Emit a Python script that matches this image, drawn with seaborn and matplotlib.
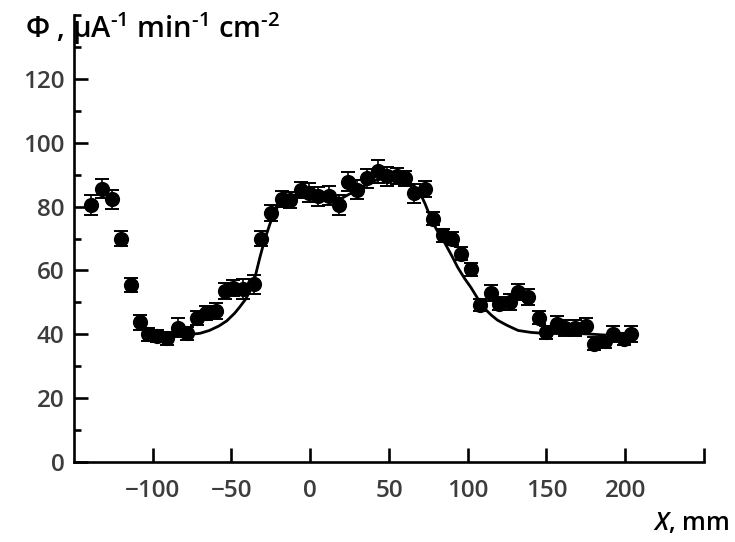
"""Perfil de fluxo ao longo de X com curva ajustada."""

import matplotlib

matplotlib.use("Agg")
import matplotlib.pyplot as plt
import numpy as np
import pandas as pd
import seaborn as sns
from matplotlib.ticker import FixedLocator

# pontos medidos
x_pontos = [-139, -132, -126, -120, -114, -108, -103, -97, -91, -84, -78, -72,
            -66, -60, -54, -49, -43, -36, -31, -25, -18, -13, -6, -1, 5, 12,
            18, 24, 30, 36, 43, 49, 55, 60, 66, 73, 78, 84, 90, 96, 102, 108,
            115, 120, 127, 132, 138, 145, 150, 157, 162, 168, 175, 180, 187,
            192, 199, 204]
y_pontos = [80.5, 85.6, 82.3, 70.0, 55.3, 43.7, 40.0, 39.5, 38.8, 42.0, 40.3,
            45.0, 46.8, 47.3, 53.5, 54.5, 54.2, 55.6, 70.0, 78.0, 82.3, 82.0,
            85.3, 84.4, 83.2, 83.4, 80.5, 87.8, 85.3, 88.8, 91.0, 89.5, 89.7,
            88.8, 84.2, 85.6, 76.2, 71.0, 70.0, 65.3, 60.3, 49.2, 52.8, 49.6,
            50.0, 53.2, 51.6, 45.2, 40.6, 43.2, 42.0, 42.0, 42.6, 37.0, 37.8,
            40.0, 38.5, 40.0]
erro = [3.0, 3.0, 3.0, 2.5, 2.2, 2.2, 2.0, 2.0, 2.0, 3.0, 2.0, 2.2, 2.2, 2.5,
        2.5, 2.5, 3.0, 3.0, 2.5, 2.5, 2.5, 2.5, 2.5, 3.0, 3.0, 3.0, 3.0, 3.0,
        3.0, 3.0, 3.5, 3.0, 2.5, 2.5, 3.0, 2.5, 2.0, 2.0, 2.0, 2.0, 2.0, 2.0,
        2.5, 2.0, 2.5, 2.5, 2.5, 2.0, 2.0, 2.5, 2.5, 2.5, 2.5, 2.0, 2.0, 2.5,
        2.0, 2.5]

# curva ajustada
x_curva = [-100, -90, -80, -70, -64, -58, -53, -48, -45, -41, -38, -35, -32,
           -29, -25.5, -22, -19, -15, -10, 0, 12, 20, 30, 40, 50, 60, 66, 70,
           73, 76.4, 80, 85, 90, 93.6, 98, 102, 106, 110, 115, 119, 125, 132,
           140, 148, 160, 172, 180, 189]
y_curva = [39.5, 39.5, 39.8, 40.3, 41.2, 42.6, 44.2, 46.6, 48.4, 51.0, 53.8,
           58.0, 64.0, 69.5, 74.7, 78.8, 81.6, 83.0, 83.4, 84.0, 83.0, 82.6,
           85.3, 88.0, 89.2, 88.2, 86.5, 84.0, 80.8, 76.6, 73.0, 69.0, 64.5,
           61.0, 57.5, 54.7, 51.5, 48.4, 46.0, 44.4, 42.8, 41.2, 40.6, 40.3,
           40.2, 40.2, 40.0, 39.7]

ticks_x = [-100, -50, 0, 50, 100, 150, 200, 250]
rotulos_x = ["\u2212100", "\u221250", "0", "50", "100", "150", "200", ""]
ticks_y = [0, 20, 40, 60, 80, 100, 120]
ticks_y_menor = [10, 30, 50, 70, 90, 110, 130, 140]

sns.set_theme(style="ticks")
plt.rcParams["font.family"] = ["Open Sans", "DejaVu Sans"]
plt.rcParams["mathtext.fontset"] = "custom"
plt.rcParams["mathtext.rm"] = "Open Sans:semibold"
plt.rcParams["mathtext.it"] = "Open Sans:italic:semibold"

df_pontos = pd.DataFrame({"x": x_pontos, "y": y_pontos, "erro": erro})
df_curva = pd.DataFrame({"x": x_curva, "y": y_curva})

fig = plt.figure(figsize=(7.35, 5.42), dpi=100)
ax = fig.add_axes([0.1007, 0.1476, 0.857, 0.8247])

sns.lineplot(data=df_curva, x="x", y="y", color="black", linewidth=2.0,
             ax=ax, zorder=2)
ax.errorbar(df_pontos["x"], df_pontos["y"], yerr=df_pontos["erro"], fmt="none",
            ecolor="black", elinewidth=1.2, capsize=5, capthick=1.4, zorder=3)
sns.scatterplot(data=df_pontos, x="x", y="y", color="black", s=120,
                edgecolor="black", linewidth=0, ax=ax, zorder=4)

ax.set_xlim(-150, 250)
ax.set_ylim(0, 140)
ax.set_xticks(ticks_x)
ax.set_xticklabels(rotulos_x)
ax.set_yticks(ticks_y)
ax.yaxis.set_minor_locator(FixedLocator(ticks_y_menor))

sns.despine(ax=ax)
for lado in ["left", "bottom"]:
    ax.spines[lado].set_linewidth(1.9)
    ax.spines[lado].set_color("black")

ax.tick_params(axis="x", direction="in", length=10, width=1.9, pad=12,
               labelsize=17.5, labelcolor="#3c3c3c", color="black")
ax.tick_params(axis="y", which="major", direction="in", length=10, width=1.9,
               pad=7, labelsize=17.5, labelcolor="#3c3c3c", color="black")
ax.tick_params(axis="y", which="minor", direction="in", length=5, width=1.9,
               color="black")
for rotulo in ax.get_xticklabels() + ax.get_yticklabels():
    rotulo.set_fontweight("semibold")

ax.set_xlabel("")
ax.set_ylabel("")
fig.text(0.034, 0.948,
         r"Φ , μA$^{\text{-1}}$ min$^{\text{-1}}$ cm$^{\text{-2}}$",
         fontsize=21, fontweight="semibold", color="black", va="center",
         ha="left")
fig.text(0.993, 0.035, r"$\mathit{X}$, mm", fontsize=18, fontweight="semibold",
         color="black", ha="right", va="center")

fig.savefig("out.png", dpi=100)
plt.close(fig)
